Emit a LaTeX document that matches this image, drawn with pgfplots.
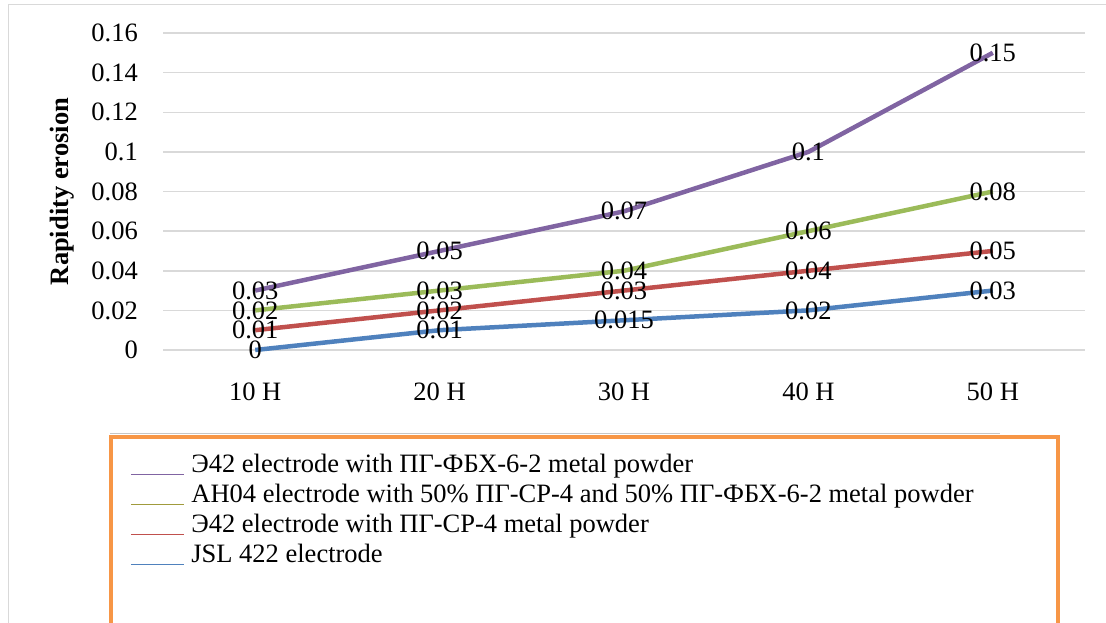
\documentclass[border=0pt]{standalone}
\usepackage{fontspec}
\setmainfont{Liberation Serif}
\usepackage{pgfplots}
\pgfplotsset{compat=1.18}
\definecolor{cpurple}{HTML}{8064A2}
\definecolor{cgreen}{HTML}{9BBB59}
\definecolor{cred}{HTML}{C0504D}
\definecolor{cblue}{HTML}{4F81BD}
\definecolor{colive}{RGB}{160,155,60}
\definecolor{gridgray}{HTML}{D9D9D9}
\definecolor{corange}{HTML}{F79646}
\begin{document}
\fontsize{26.5}{30}\selectfont
\begin{tikzpicture}[x=1pt,y=1pt]
\useasboundingbox (0,0) rectangle (1106,-623);
\draw[color=gridgray, line width=1.5pt] (8.5,-623) -- (8.5,-4.5) -- (1106,-4.5);
\draw[color=gray!45, line width=1pt] (110,-433.5) -- (1000,-433.5);
\draw[color=corange, line width=4pt] (111,-640) -- (111,-437) -- (1058,-437) -- (1058,-640);
\begin{axis}[
  at={(163pt,-350pt)}, anchor=south west,
  scale only axis, width=922pt, height=317pt,
  xmin=-0.5, xmax=4.5, ymin=0, ymax=0.16,
  xtick={0,1,2,3,4}, xticklabels={10 H,20 H,30 H,40 H,50 H},
  ytick={0,0.02,0.04,0.06,0.08,0.1,0.12,0.14,0.16},
  /pgf/number format/fixed, /pgf/number format/precision=3, /pgf/number format/assume math mode=true,
  axis line style={draw=none}, major tick style={draw=none},
  ymajorgrids, grid style={color=gridgray, line width=1.5pt},
  font=\fontsize{26.5}{30}\selectfont,
  yticklabel style={inner sep=0pt, anchor=east, xshift=-25pt},
  xticklabel style={inner sep=0pt, anchor=base, yshift=-50pt},
  ylabel={\textbf{Rapidity erosion}},
  ylabel style={at={(axis description cs:-0.1095,0.5)}, anchor=center, inner sep=0pt},
  every axis plot/.append style={line width=4.5pt, mark=none},
  nodes near coords,
  every node near coord/.append style={anchor=center, text=black, inner sep=0pt, font=\fontsize{26.5}{30}\selectfont},
  clip=false,
  legend style={at={(axis description cs:-0.0358,-0.3186)}, anchor=north west, draw=none, fill=none,
    inner sep=0pt, font=\fontsize{26.5}{30}\selectfont,
    nodes={inner sep=0pt, text height=21pt, text depth=9pt},
    column sep=7pt},
  legend cell align=left,
  legend image code/.code={\draw[line width=1.2pt] (0pt,-8pt) -- (53pt,-8pt);},
]
\addplot[cpurple] coordinates {(0,0.03) (1,0.05) (2,0.07) (3,0.1) (4,0.15)};
\addlegendentry{Э42 electrode with ПГ-ФБХ-6-2 metal powder}
\addplot[cgreen, legend image code/.code={\draw[line width=1.2pt, colive] (0pt,-8pt) -- (53pt,-8pt);}] coordinates {(0,0.02) (1,0.03) (2,0.04) (3,0.06) (4,0.08)};
\addlegendentry{AH04 electrode with 50\% ПГ-СР-4 and 50\% ПГ-ФБХ-6-2 metal powder}
\addplot[cred] coordinates {(0,0.01) (1,0.02) (2,0.03) (3,0.04) (4,0.05)};
\addlegendentry{Э42 electrode with ПГ-СР-4 metal powder}
\addplot[cblue] coordinates {(0,0) (1,0.01) (2,0.015) (3,0.02) (4,0.03)};
\addlegendentry{JSL 422 electrode}
\end{axis}
\end{tikzpicture}
\end{document}
